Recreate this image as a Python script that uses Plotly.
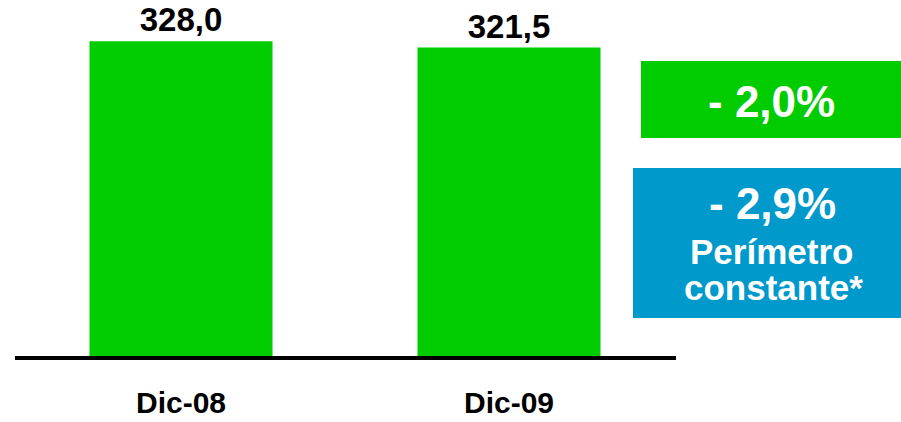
import plotly.graph_objects as go

categories = ["Dic-08", "Dic-09"]
values = [328.0, 321.5]
value_labels = ["328,0", "321,5"]
change_total = "- 2,0%"
change_constant = "- 2,9%"
constant_note = ["Perímetro", "constante*"]

GREEN = "#00CC00"
BLUE = "#0099CC"
FONT = "Liberation Sans, Arial, sans-serif"

W, H = 901, 422
L, R, T, B = 17, 228, 20, 64
PW, PH = W - L - R, H - T - B


def px(x):
    return (x - L) / PW


def py(y):
    return (H - B - y) / PH


fig = go.Figure()
fig.add_trace(go.Bar(
    x=categories, y=values,
    marker=dict(color=GREEN, line=dict(width=0)),
    text=value_labels, textposition="outside", cliponaxis=False,
    textfont=dict(family=FONT, size=33, color="black", weight="bold"),
    width=0.558,
))

shapes = [
    dict(type="line", xref="paper", yref="paper", x0=px(15), x1=px(676), y0=0, y1=0,
         line=dict(color="black", width=4), layer="above"),
    dict(type="rect", xref="paper", yref="paper", x0=px(641), x1=px(901), y0=py(138), y1=py(61),
         fillcolor=GREEN, line=dict(width=0), layer="below"),
    dict(type="rect", xref="paper", yref="paper", x0=px(633), x1=px(901), y0=py(318), y1=py(168),
         fillcolor=BLUE, line=dict(width=0), layer="below"),
]

ann = [
    dict(text=change_total, x=px(771), y=py(101), size=44),
    dict(text=change_constant, x=px(772), y=py(203), size=44),
    dict(text=constant_note[0], x=px(771), y=py(251), size=35),
    dict(text=constant_note[1], x=px(773), y=py(287), size=35),
]
annotations = [
    dict(text=a["text"], x=a["x"], y=a["y"], xref="paper", yref="paper",
         xanchor="center", yanchor="middle", showarrow=False,
         font=dict(family=FONT, size=a["size"], color="white", weight="bold"))
    for a in ann
]

fig.update_layout(
    width=W, height=H,
    margin=dict(l=L, r=R, t=T, b=B, pad=0, autoexpand=False),
    paper_bgcolor="white", plot_bgcolor="white",
    showlegend=False,
    shapes=shapes, annotations=annotations,
    xaxis=dict(range=[-0.5, 1.5], showgrid=False, zeroline=False, showline=False,
               ticks="", ticklabelstandoff=24, automargin=False,
               tickfont=dict(family=FONT, size=30, color="black", weight="bold")),
    yaxis=dict(range=[0, 350], visible=False, showgrid=False, zeroline=False,
               automargin=False),
)

fig.write_html(
    "out.html",
    config={"displayModeBar": False},
    post_script="document.body.style.margin='0';document.body.style.overflow='hidden';",
)
